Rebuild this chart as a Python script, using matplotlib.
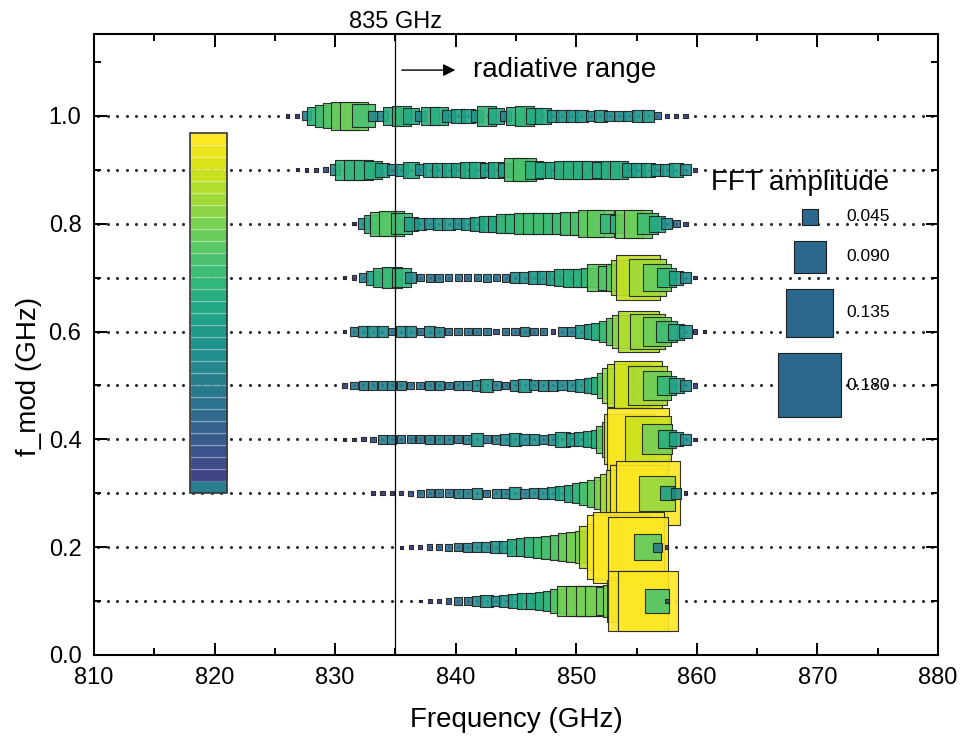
import numpy as np
import matplotlib
matplotlib.use('Agg')
import matplotlib.pyplot as plt
from matplotlib.colors import LogNorm
from matplotlib.patches import Rectangle
from matplotlib.ticker import MultipleLocator

plt.rcParams['font.family'] = ['Liberation Sans', 'DejaVu Sans']

# FFT frequency bins (GHz)
freq = 810.34 + 0.786 * np.arange(89)

# modulation frequencies (GHz), first bin index of each row and FFT amplitudes
f_mod = [1.0, 0.9, 0.8, 0.7, 0.6, 0.5, 0.4, 0.3, 0.2, 0.1]
first_bin = [20, 21, 27, 26, 26, 26, 25, 29, 32, 34]

amp_10 = [0.01, 0.012, 0.025, 0.05, 0.062, 0.07, 0.078, 0.08, 0.065, 0.03, 0.03,
          0.05, 0.055, 0.045, 0.03, 0.05, 0.05, 0.035, 0.04, 0.04, 0.035, 0.055,
          0.045, 0.03, 0.05, 0.055, 0.045, 0.045, 0.035, 0.035, 0.035, 0.035,
          0.03, 0.035, 0.03, 0.03, 0.03, 0.035, 0.035, 0.02, 0.012, 0.012, 0.012]
amp_09 = [0.008, 0.01, 0.012, 0.015, 0.03, 0.055, 0.055, 0.055, 0.05, 0.04, 0.03,
          0.035, 0.045, 0.03, 0.04, 0.04, 0.04, 0.04, 0.045, 0.045, 0.04, 0.045,
          0.04, 0.065, 0.065, 0.05, 0.045, 0.045, 0.05, 0.05, 0.05, 0.05, 0.045,
          0.05, 0.05, 0.04, 0.04, 0.04, 0.035, 0.035, 0.04, 0.03, 0.012]
amp_08 = [0.01, 0.03, 0.05, 0.068, 0.07, 0.06, 0.04, 0.035, 0.03, 0.035, 0.035,
          0.03, 0.035, 0.04, 0.045, 0.045, 0.055, 0.055, 0.06, 0.06, 0.06, 0.058,
          0.06, 0.065, 0.065, 0.075, 0.075, 0.055, 0.05, 0.08, 0.08, 0.06, 0.045,
          0.03, 0.02, 0.012]
amp_07 = [0.008, 0.012, 0.025, 0.04, 0.055, 0.058, 0.055, 0.03, 0.02, 0.022, 0.022,
          0.02, 0.02, 0.018, 0.02, 0.022, 0.02, 0.022, 0.03, 0.033, 0.035, 0.035,
          0.04, 0.048, 0.05, 0.05, 0.055, 0.075, 0.068, 0.075, 0.10, 0.125, 0.105,
          0.078, 0.055, 0.04, 0.03, 0.01]
amp_06 = [0.01, 0.025, 0.03, 0.032, 0.03, 0.022, 0.03, 0.03, 0.02, 0.03, 0.028,
          0.02, 0.022, 0.022, 0.022, 0.022, 0.015, 0.02, 0.02, 0.025, 0.02, 0.022,
          0.012, 0.025, 0.025, 0.035, 0.04, 0.05, 0.06, 0.075, 0.095, 0.115, 0.1,
          0.08, 0.06, 0.045, 0.035, 0.012, 0.008]
amp_05 = [0.012, 0.022, 0.025, 0.025, 0.025, 0.025, 0.025, 0.02, 0.022, 0.025, 0.025,
          0.022, 0.025, 0.025, 0.03, 0.035, 0.025, 0.022, 0.03, 0.035, 0.028, 0.03,
          0.03, 0.028, 0.03, 0.035, 0.04, 0.05, 0.07, 0.1, 0.12, 0.135, 0.11, 0.08,
          0.055, 0.042, 0.03, 0.012]
amp_04 = [0.006, 0.008, 0.01, 0.012, 0.015, 0.025, 0.025, 0.022, 0.022, 0.022, 0.025,
          0.025, 0.025, 0.022, 0.025, 0.035, 0.022, 0.025, 0.03, 0.035, 0.03, 0.03,
          0.025, 0.03, 0.042, 0.035, 0.04, 0.045, 0.05, 0.075, 0.1, 0.14, 0.175,
          0.13, 0.085, 0.05, 0.04, 0.03, 0.01]
amp_03 = [0.01, 0.012, 0.012, 0.012, 0.015, 0.02, 0.022, 0.022, 0.022, 0.025, 0.025,
          0.03, 0.02, 0.025, 0.025, 0.035, 0.025, 0.028, 0.03, 0.035, 0.04, 0.047,
          0.055, 0.065, 0.075, 0.09, 0.11, 0.13, 0.16, 0.18, 0.1, 0.04, 0.03, 0.01]
amp_02 = [0.008, 0.012, 0.012, 0.015, 0.018, 0.02, 0.022, 0.025, 0.03, 0.03, 0.032,
          0.035, 0.047, 0.05, 0.055, 0.06, 0.065, 0.07, 0.08, 0.085, 0.09, 0.118,
          0.13, 0.18, 0.2, 0.17, 0.075, 0.025, 0.01]
amp_01 = [0.008, 0.012, 0.012, 0.015, 0.022, 0.022, 0.03, 0.035, 0.03, 0.035, 0.04,
          0.045, 0.045, 0.05, 0.055, 0.07, 0.085, 0.085, 0.085, 0.085, 0.08, 0.09,
          0.12, 0.17, 0.17, 0.066, 0.012]
amps = [amp_10, amp_09, amp_08, amp_07, amp_06, amp_05, amp_04, amp_03, amp_02, amp_01]

legend_amp = [0.045, 0.090, 0.135, 0.180]
legend_labels = ['0.045', '0.090', '0.135', '0.180']
legend_y = [0.813, 0.739, 0.635, 0.50]


def msize(a):
    # square side proportional to the amplitude
    return (255.6 * np.asarray(a)) ** 2


fig = plt.figure(figsize=(9.61, 7.40), dpi=100)
ax = fig.add_axes([0.0978, 0.1149, 0.8782, 0.8392])
norm = LogNorm(vmin=0.006, vmax=0.17)
cmap = plt.get_cmap('viridis')

# noise floor dots
for y in f_mod:
    ax.scatter(freq, np.full(len(freq), y), s=5, marker='o', color='#2e2e3a',
               linewidths=0, zorder=1)

for y, k0, a in zip(f_mod, first_bin, amps):
    a = np.array(a)
    x = freq[k0:k0 + len(a)]
    ax.scatter(x, np.full(len(a), y), s=msize(a), marker='s', c=a, cmap=cmap,
               norm=norm, edgecolors='#1e1e1e', linewidths=0.8, alpha=0.9, zorder=2)

# colour scale bar on the left
cb_levels = np.linspace(0.2, 1.0, 29)
seg = (0.968 - 0.322) / len(cb_levels)
ax.bar(819.48, 0.022, bottom=0.3, width=3.07, color=cmap(0.42), zorder=3)
for i, lv in enumerate(cb_levels):
    ax.bar(819.48, seg, bottom=0.322 + i * seg, width=3.07, color=cmap(lv),
           edgecolor=(1, 1, 1, 0.18), linewidth=1, zorder=3)
ax.add_patch(Rectangle((817.95, 0.3), 3.07, 0.668, fill=False, ec='#333333',
                       lw=1.2, zorder=4))

# size legend
ax.scatter([869.35] * 4, legend_y, s=msize(legend_amp), marker='s', color='#2a688e',
           edgecolors='#1e1e1e', linewidths=0.8, zorder=4)
for yy, lab in zip(legend_y, legend_labels):
    ax.text(872.4, yy, lab, fontsize=12.5, va='center', ha='left', zorder=5)
ax.text(861.15, 0.876, 'FFT amplitude', fontsize=20, va='center', ha='left', zorder=5)

# 835 GHz marker
ax.axvline(835, color='k', lw=0.9, zorder=5)
ax.text(835, 1.174, '835 GHz', fontsize=17, ha='center', va='center', clip_on=False)
ax.annotate('', xy=(840.2, 1.085), xytext=(835.3, 1.085),
            arrowprops=dict(arrowstyle='-|>', color='k', lw=1.0, mutation_scale=18))
ax.text(841.4, 1.085, 'radiative range', fontsize=20, ha='left', va='center')

ax.set_xlim(810, 880)
ax.set_ylim(0, 1.152)
ax.xaxis.set_major_locator(MultipleLocator(10))
ax.xaxis.set_minor_locator(MultipleLocator(5))
ax.yaxis.set_major_locator(MultipleLocator(0.2))
ax.yaxis.set_minor_locator(MultipleLocator(0.1))
ax.tick_params(which='both', direction='in', top=True, right=True, width=1.4)
ax.tick_params(which='major', length=9, labelsize=17, pad=9)
ax.tick_params(which='minor', length=5)
for sp in ax.spines.values():
    sp.set_linewidth(1.5)

ax.set_xlabel('Frequency (GHz)', fontsize=20)
ax.set_ylabel('f_mod (GHz)', fontsize=20)
ax.xaxis.set_label_coords(0.5, -0.083)
ax.yaxis.set_label_coords(-0.062, 0.449)

fig.savefig('out.png', dpi=100)
